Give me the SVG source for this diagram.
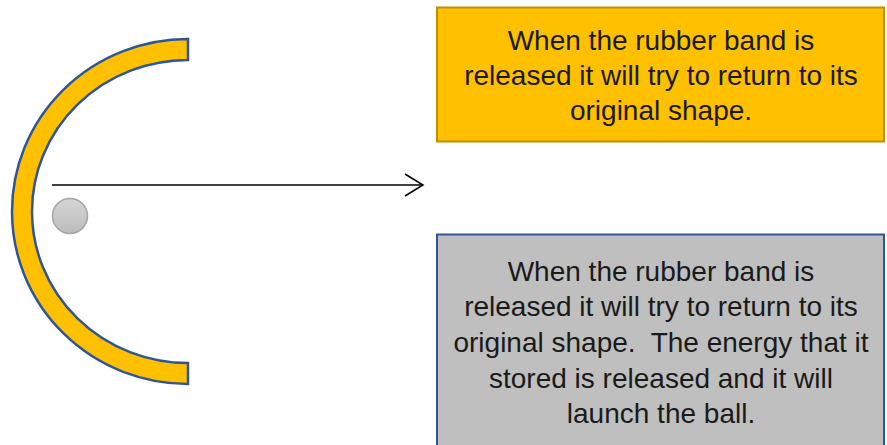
<svg xmlns="http://www.w3.org/2000/svg" width="887" height="445" viewBox="0 0 887 445">
<style>
.t{font-family:"Liberation Sans",Arial,sans-serif;font-size:28px;fill:#1a1a1a;text-anchor:middle}
</style>
<defs>
<linearGradient id="g" x1="0" y1="0" x2="0" y2="1"><stop offset="0" stop-color="#d6d6d6"/><stop offset="1" stop-color="#bcbcbc"/></linearGradient>
</defs>
<g id="band"><path d="M188,39 A176,172.5 0 0 0 188,384 L188,363 A156,151.5 0 0 1 188,60 Z" fill="#FFC000" stroke="#2F5597" stroke-width="2.5"/></g>
<g id="ball"><circle cx="70" cy="216" r="17.5" fill="url(#g)" stroke="#a6a6a6" stroke-width="1.5"/></g>
<g id="connectors" fill="none" stroke="#000" stroke-width="1.5">
<line x1="52" y1="185" x2="423" y2="185"/>
<polyline points="405,174 423,185 405,196"/>
</g>
<g id="box1">
<rect x="437" y="7.5" width="447" height="134" fill="#FFC000" stroke="#BF9000" stroke-width="2"/>
<text class="t" x="661" y="50">When the rubber band is</text>
<text class="t" x="661" y="85">released it will try to return to its</text>
<text class="t" x="661" y="120">original shape.</text>
</g>
<g id="box2">
<rect x="437" y="234.5" width="447" height="220" fill="#BFBFBF" stroke="#2F5597" stroke-width="2"/>
<text class="t" x="661" y="281">When the rubber band is</text>
<text class="t" x="661" y="316">released it will try to return to its</text>
<text class="t" x="661" y="352" xml:space="preserve">original shape.  The energy that it</text>
<text class="t" x="661" y="388">stored is released and it will</text>
<text class="t" x="661" y="423">launch the ball.</text>
</g>
</svg>
